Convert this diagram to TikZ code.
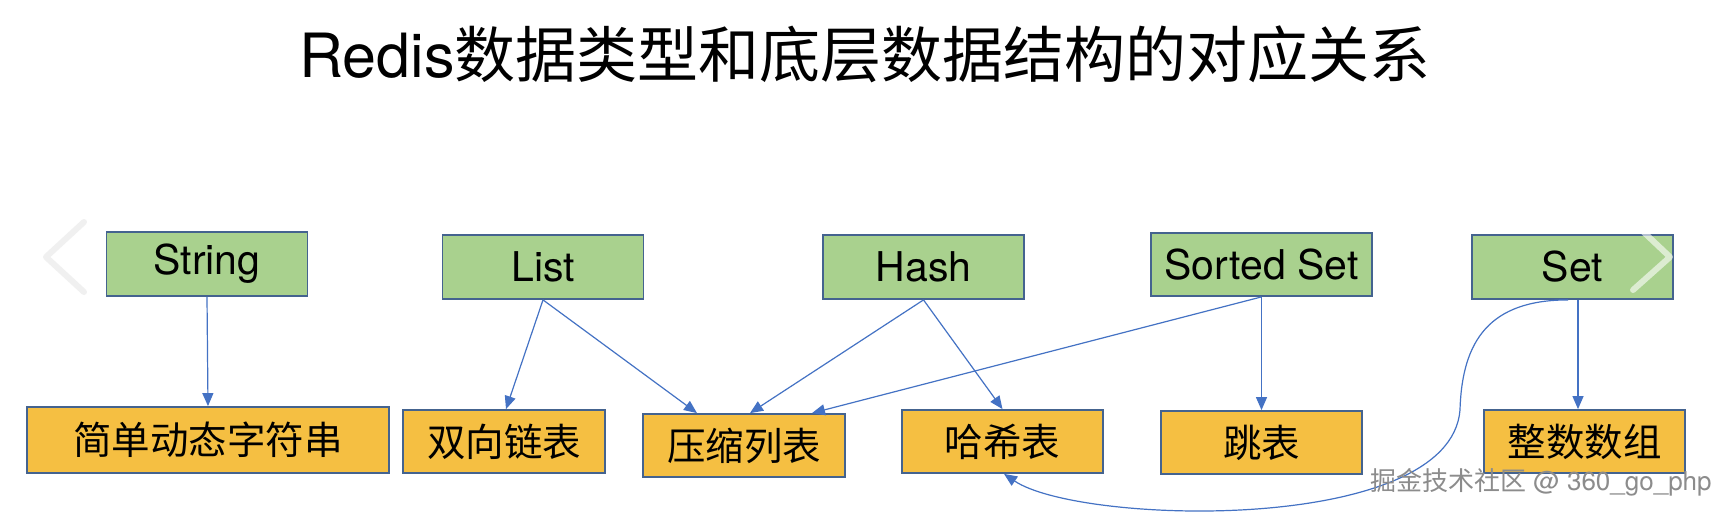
\documentclass[tikz,border=0pt]{standalone}
\usepackage{fontspec}
\setmainfont{TeX Gyre Heros}
\newfontfamily\cjk{Noto Sans CJK SC}
\usetikzlibrary{arrows.meta,calc}
\definecolor{boxgreen}{HTML}{A9D18E}
\definecolor{boxorange}{HTML}{F5BF42}
\definecolor{boxline}{HTML}{44638F}
\definecolor{arrowblue}{HTML}{4472C4}
\begin{document}
\begin{tikzpicture}[x=1pt,y=-1pt,
  typebox/.style={draw=boxline, line width=1.8pt, fill=boxgreen, minimum width=201pt, minimum height=64pt, inner sep=0pt, font=\fontsize{41}{44}\selectfont},
  structbox/.style={draw=boxline, line width=1.8pt, fill=boxorange, minimum width=201pt, minimum height=63pt, inner sep=0pt, font=\cjk\fontsize{38.5}{42}\selectfont},
  link/.style={draw=arrowblue, line width=1.2pt, -{Triangle[length=13pt,width=11pt]}},
  chev/.style={line width=6pt, line cap=round, line join=round}]
\fill[white] (0,0) rectangle (1718,514);
\useasboundingbox (0,0) rectangle (1718,514);

\node[font=\fontsize{61}{64}\selectfont] (title) at (865,54) {Redis{\cjk 数据类型和底层数据结构的对应关系}};

% data types
\node[typebox] (string) at (207,264) {String};
\node[typebox] (list) at (543,267) {List};
\node[typebox] (hash) at (923.5,267) {Hash};
\node[typebox, minimum width=221pt, minimum height=63pt] (zset) at (1261.5,264.5) {Sorted Set};
\node[typebox] (set) at (1572.5,267) {Set};

% structures
\node[structbox, minimum width=362pt, minimum height=66pt] (sds) at (208,440) {简单动态字符串};
\node[structbox, minimum width=202pt] (dlist) at (504,441.5) {双向链表};
\node[structbox, minimum width=202pt] (zip) at (744,445.5) {压缩列表};
\node[structbox] (ht) at (1002.5,441.5) {哈希表};
\node[structbox] (skip) at (1261.5,442.5) {跳表};
\node[structbox] (ints) at (1584.5,441.5) {整数数组};

% connectors
\draw[link] (string.south) -- (sds.north);
\draw[link] (list.south) -- ([xshift=2pt]dlist.north);
\draw[link] (list.south) -- ([xshift=-47pt]zip.north);
\draw[link] (hash.south) -- ([xshift=6pt]zip.north);
\draw[link] (hash.south) -- (ht.north);
\draw[link] (zset.south) -- ([xshift=68pt]zip.north);
\draw[link] (zset.south) -- (skip.north);
\draw[link] ([xshift=5.5pt]set.south) -- ([xshift=-6.5pt]ints.north);
\coordinate (via) at (1460,410);
\draw[link] ([xshift=-4.5pt]set.south) .. controls (1490,300) and (1462,340) .. (via)
  .. controls (1450,535) and (1080,525) .. ([xshift=1.5pt]ht.south);

% carousel chevrons
\draw[chev, draw=black!6] (84,222) -- (46,257) -- (84,292);
\draw[chev, draw=white, opacity=0.6] (1633,222) -- (1670,257) -- (1633,290);

% watermark
\node[font=\fontsize{26}{28}\selectfont, text=black!45, anchor=west, inner sep=0pt] (wm) at (1370,482) {{\cjk 掘金技术社区} @ 360\_go\_php};
\end{tikzpicture}
\end{document}
